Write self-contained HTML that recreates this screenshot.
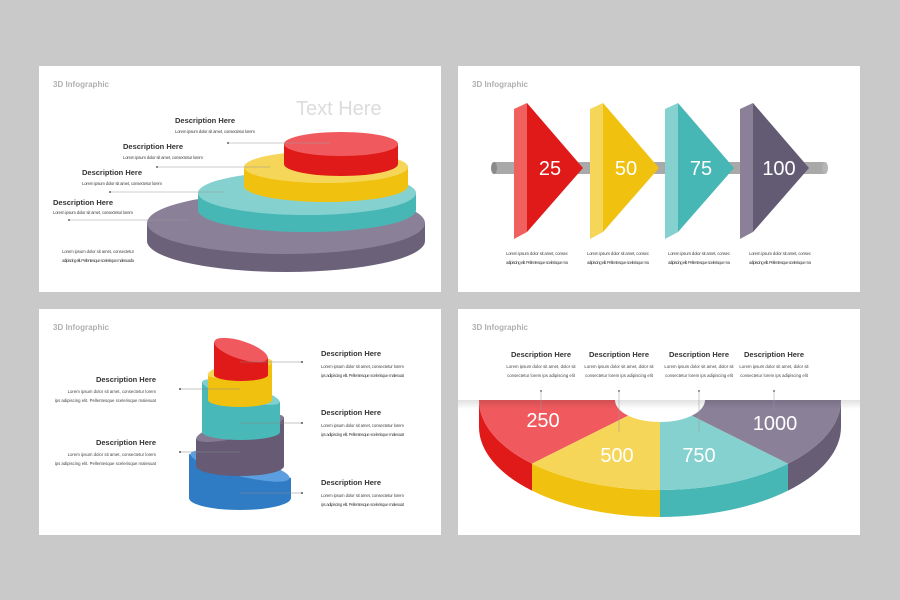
<!DOCTYPE html>
<html><head><meta charset="utf-8"><style>
html,body{margin:0;padding:0;background:#c9c9c9;}
svg{display:block;}
text{font-family:"Liberation Sans",sans-serif;}
.t{font-size:8px;font-weight:bold;fill:#b0b0b0;}
.h{font-size:7.5px;font-weight:bold;fill:#333;}
.l{font-size:4.3px;fill:#444;}
.n{font-size:20px;fill:#fff;}
</style></head><body>
<svg width="900" height="600" viewBox="0 0 900 600" xmlns="http://www.w3.org/2000/svg">
<defs>
<linearGradient id="sh" x1="0" y1="0" x2="0" y2="1"><stop offset="0" stop-color="#000" stop-opacity="0.12"/><stop offset="1" stop-color="#000" stop-opacity="0"/></linearGradient>
</defs>
<rect width="900" height="600" fill="#c9c9c9"/>
<rect x="39" y="66" width="402" height="226" fill="#fff"/>
<rect x="458" y="66" width="402" height="226" fill="#fff"/>
<rect x="39" y="309" width="402" height="226" fill="#fff"/>
<rect x="458" y="309" width="402" height="226" fill="#fff"/>

<!-- Panel 1 -->
<text class="t" x="53" y="87">3D Infographic</text>
<text x="296" y="115" font-size="20" fill="#dcdcdc" font-family="Liberation Sans">Text Here</text>
<path d="M147,223 L147,241 A139,31 0 0 0 425,241 L425,223 Z" fill="#6b6178"/>
<ellipse cx="286" cy="223" rx="139" ry="31" fill="#8a8098"/>
<path d="M198,193 L198,210 A109,22 0 0 0 416,210 L416,193 Z" fill="#47b7b5"/>
<ellipse cx="307" cy="193" rx="109" ry="22" fill="#84d1cf"/>
<path d="M244,167 L244,186 A82,16 0 0 0 408,186 L408,167 Z" fill="#f0c20f"/>
<ellipse cx="326" cy="167" rx="82" ry="16" fill="#f6d658"/>
<path d="M284,144 L284,164 A57,12 0 0 0 398,164 L398,144 Z" fill="#e01919"/>
<ellipse cx="341" cy="144" rx="57" ry="12" fill="#f05a5e"/>
<g stroke="#999" stroke-width="0.5">
<line x1="228" y1="143" x2="330" y2="143"/><line x1="157" y1="167" x2="270" y2="167"/>
<line x1="110" y1="192" x2="225" y2="192"/><line x1="69" y1="220" x2="190" y2="220"/></g>
<g fill="#666"><circle cx="228" cy="143" r="1"/><circle cx="157" cy="167" r="1"/><circle cx="110" cy="192" r="1"/><circle cx="69" cy="220" r="1"/></g>
<text class="h" x="175" y="123">Description Here</text>
<text class="l" x="175" y="133" textLength="80">Lorem ipsum dolor sit amet, consectetur lorem</text>
<text class="h" x="123" y="149">Description Here</text>
<text class="l" x="123" y="159" textLength="80">Lorem ipsum dolor sit amet, consectetur lorem</text>
<text class="h" x="82" y="175">Description Here</text>
<text class="l" x="82" y="185" textLength="80">Lorem ipsum dolor sit amet, consectetur lorem</text>
<text class="h" x="53" y="205">Description Here</text>
<text class="l" x="53" y="214" textLength="80">Lorem ipsum dolor sit amet, consectetur lorem</text>
<text class="l" x="62" y="253" textLength="72">Lorem ipsum dolor sit amet, consectetur</text>
<text class="l" x="62" y="262" textLength="72">adipiscing elit. Pellentesque scelerisque malesuada</text>

<!-- Panel 2 -->
<text class="t" x="472" y="87">3D Infographic</text>
<rect x="494" y="162" width="331" height="12" fill="#a9a9a9"/>
<ellipse cx="494" cy="168" rx="3" ry="6" fill="#8a8a8a"/>
<ellipse cx="825" cy="168" rx="3" ry="6" fill="#b5b5b5"/>
<g>
<polygon points="514,109 527,103 527,232 514,239" fill="#f0605f"/>
<polygon points="527,103 583,168 527,232" fill="#e01919"/>
<text class="n" x="550" y="175" text-anchor="middle">25</text>
</g>
<g transform="translate(76,0)">
<polygon points="514,109 527,103 527,232 514,239" fill="#f6d658"/>
<polygon points="527,103 583,168 527,232" fill="#f0c20f"/>
<text class="n" x="550" y="175" text-anchor="middle">50</text>
</g>
<g transform="translate(151,0)">
<polygon points="514,109 527,103 527,232 514,239" fill="#84d1cf"/>
<polygon points="527,103 583,168 527,232" fill="#47b7b5"/>
<text class="n" x="550" y="175" text-anchor="middle">75</text>
</g>
<g transform="translate(226,0)">
<polygon points="514,109 527,103 527,232 514,239" fill="#8a8098"/>
<polygon points="527,103 583,168 527,232" fill="#635b73"/>
<text class="n" x="553" y="175" text-anchor="middle">100</text>
</g>
<text class="l" x="506" y="255" textLength="62">Lorem ipsum dolor sit amet, consec</text><text class="l" x="506" y="264" textLength="62">adipiscing elit. Pellentesque scelerisque ma</text>
<text class="l" x="587" y="255" textLength="62">Lorem ipsum dolor sit amet, consec</text><text class="l" x="587" y="264" textLength="62">adipiscing elit. Pellentesque scelerisque ma</text>
<text class="l" x="668" y="255" textLength="62">Lorem ipsum dolor sit amet, consec</text><text class="l" x="668" y="264" textLength="62">adipiscing elit. Pellentesque scelerisque ma</text>
<text class="l" x="749" y="255" textLength="62">Lorem ipsum dolor sit amet, consec</text><text class="l" x="749" y="264" textLength="62">adipiscing elit. Pellentesque scelerisque ma</text>

<!-- Panel 3 -->
<text class="t" x="53" y="330">3D Infographic</text>
<path d="M189,454 L189,498 A51,12 0 0 0 291,498 L291,478 Z" fill="#2f7cc4"/>
<ellipse cx="240" cy="466" rx="51" ry="10" transform="rotate(14 240 466)" fill="#5b9fe0"/>
<path d="M196,439 L196,466 A44,10 0 0 0 284,466 L284,417 Z" fill="#665a74"/>
<ellipse cx="240" cy="428" rx="45" ry="9" transform="rotate(-14 240 428)" fill="#857a94"/>
<path d="M202,382 L202,432 A39,8 0 0 0 280,432 L280,402 Z" fill="#48b8b8"/>
<ellipse cx="241" cy="392" rx="40" ry="8" transform="rotate(15 241 392)" fill="#80d0ce"/>
<path d="M208,375 L208,400 A32,7 0 0 0 272,400 L272,361 Z" fill="#f0c20f"/>
<ellipse cx="240" cy="368" rx="33" ry="7" transform="rotate(-12 240 368)" fill="#f6d658"/>
<path d="M214,342 L214,375 A27,6 0 0 0 268,375 L268,358 Z" fill="#e01919"/>
<ellipse cx="241" cy="350" rx="28" ry="9" transform="rotate(18 241 350)" fill="#f05a5e"/>
<g stroke="#888" stroke-width="0.5">
<line x1="240" y1="362" x2="302" y2="362"/><line x1="240" y1="423" x2="302" y2="423"/><line x1="240" y1="493" x2="302" y2="493"/>
<line x1="180" y1="389" x2="240" y2="389"/><line x1="180" y1="452" x2="240" y2="452"/></g>
<g fill="#555"><circle cx="302" cy="362" r="1"/><circle cx="302" cy="423" r="1"/><circle cx="302" cy="493" r="1"/><circle cx="180" cy="389" r="1"/><circle cx="180" cy="452" r="1"/></g>
<text class="h" x="321" y="356">Description Here</text>
<text class="l" x="321" y="368" textLength="83">Lorem ipsum dolor sit amet, consectetur lorem</text>
<text class="l" x="321" y="377" textLength="83">ips adipiscing elit. Pellentesque scelerisque malesuat</text>
<text class="h" x="321" y="415">Description Here</text>
<text class="l" x="321" y="427" textLength="83">Lorem ipsum dolor sit amet, consectetur lorem</text>
<text class="l" x="321" y="436" textLength="83">ips adipiscing elit. Pellentesque scelerisque malesuat</text>
<text class="h" x="321" y="485">Description Here</text>
<text class="l" x="321" y="497" textLength="83">Lorem ipsum dolor sit amet, consectetur lorem</text>
<text class="l" x="321" y="506" textLength="83">ips adipiscing elit. Pellentesque scelerisque malesuat</text>
<g text-anchor="end">
<text class="h" x="156" y="382">Description Here</text>
<text class="l" x="156" y="393">Lorem ipsum dolor sit amet, consectetur lorem</text>
<text class="l" x="156" y="402">ips adipiscing elit. Pellentesque scelerisque malesuat</text>
<text class="h" x="156" y="445">Description Here</text>
<text class="l" x="156" y="456">Lorem ipsum dolor sit amet, consectetur lorem</text>
<text class="l" x="156" y="465">ips adipiscing elit. Pellentesque scelerisque malesuat</text>
</g>

<!-- Panel 4 -->
<path d="M479,400 A181,90 0 0 0 532,463.6 L532,490.6 A181,90 0 0 1 479,427 Z" fill="#e01919"/>
<path d="M532,463.6 A181,90 0 0 0 660,490 L660,517 A181,90 0 0 1 532,490.6 Z" fill="#f0c20f"/>
<path d="M660,490 A181,90 0 0 0 788,463.6 L788,490.6 A181,90 0 0 1 660,517 Z" fill="#47b7b5"/>
<path d="M788,463.6 A181,90 0 0 0 841,400 L841,427 A181,90 0 0 1 788,490.6 Z" fill="#675d75"/>
<path d="M479,400 A181,90 0 0 0 532,463.6 L628.2,415.6 A45,22 0 0 1 615,400 Z" fill="#f05a5e"/>
<path d="M532,463.6 A181,90 0 0 0 660,490 L660,422 A45,22 0 0 1 628.2,415.6 Z" fill="#f6d658"/>
<path d="M660,490 A181,90 0 0 0 788,463.6 L691.8,415.6 A45,22 0 0 1 660,422 Z" fill="#84d1cf"/>
<path d="M788,463.6 A181,90 0 0 0 841,400 L705,400 A45,22 0 0 1 691.8,415.6 Z" fill="#8a8098"/>
<rect x="458" y="309" width="402" height="91" fill="#fff"/>
<rect x="458" y="400" width="402" height="9" fill="url(#sh)"/>
<text class="t" x="472" y="330">3D Infographic</text>
<text class="n" x="543" y="427" text-anchor="middle">250</text>
<text class="n" x="617" y="462" text-anchor="middle">500</text>
<text class="n" x="699" y="462" text-anchor="middle">750</text>
<text class="n" x="775" y="430" text-anchor="middle">1000</text>
<g stroke="#999" stroke-width="0.5">
<line x1="541" y1="391" x2="541" y2="410"/><line x1="619" y1="391" x2="619" y2="432"/>
<line x1="699" y1="391" x2="699" y2="432"/><line x1="774" y1="391" x2="774" y2="410"/></g>
<g fill="#777"><circle cx="541" cy="391" r="1"/><circle cx="619" cy="391" r="1"/><circle cx="699" cy="391" r="1"/><circle cx="774" cy="391" r="1"/></g>
<g text-anchor="middle">
<text class="h" x="541" y="357">Description Here</text>
<text class="l" x="541" y="368">Lorem ipsum dolor sit amet, dolor sit</text>
<text class="l" x="541" y="377">consectetur lorem ips adipiscing elit</text>
<text class="h" x="619" y="357">Description Here</text>
<text class="l" x="619" y="368">Lorem ipsum dolor sit amet, dolor sit</text>
<text class="l" x="619" y="377">consectetur lorem ips adipiscing elit</text>
<text class="h" x="699" y="357">Description Here</text>
<text class="l" x="699" y="368">Lorem ipsum dolor sit amet, dolor sit</text>
<text class="l" x="699" y="377">consectetur lorem ips adipiscing elit</text>
<text class="h" x="774" y="357">Description Here</text>
<text class="l" x="774" y="368">Lorem ipsum dolor sit amet, dolor sit</text>
<text class="l" x="774" y="377">consectetur lorem ips adipiscing elit</text>
</g>
</svg>
</body></html>
